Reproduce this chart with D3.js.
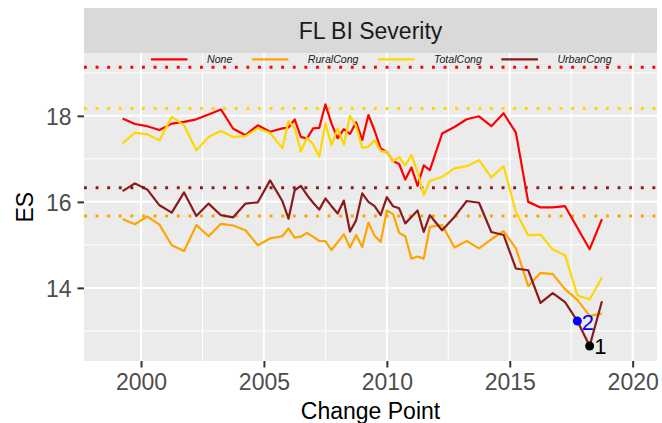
<!DOCTYPE html>
<html>
<head>
<meta charset="utf-8">
<script src="https://cdn.jsdelivr.net/npm/d3@7"></script>
<style>
  html, body { margin: 0; padding: 0; background: #ffffff; }
  svg { display: block; font-family: "Liberation Sans", Arial, Helvetica, sans-serif; }
</style>
</head>
<body>
<svg id="chart" width="662" height="423"></svg>
<script>
// ---------------- data ----------------
const years = [
  1999.25, 1999.75, 2000.25, 2000.75, 2001.25, 2001.75, 2002.25, 2002.75, 2003.25, 2003.75, 2004.25, 2004.75, 2005.25, 2005.75,
  2006.0, 2006.25, 2006.5, 2006.75, 2007.0, 2007.25, 2007.5, 2007.75, 2008.0, 2008.25, 2008.5, 2008.75,
  2009.0, 2009.25, 2009.5, 2009.75, 2010.0, 2010.25, 2010.5, 2010.75, 2011.0, 2011.25, 2011.5, 2011.75,
  2012.25, 2012.75, 2013.25, 2013.75, 2014.25, 2014.75, 2015.25, 2015.75, 2016.25, 2016.75, 2017.25, 2017.75, 2018.25, 2018.75
];
const noneValues = [
  17.94, 17.81, 17.76, 17.67, 17.82, 17.86, 17.92, 18.03, 18.15, 17.70, 17.55, 17.78, 17.63, 17.71,
  17.73, 17.92, 17.51, 17.47, 17.71, 17.72, 18.27, 17.82, 17.48, 17.69, 17.58, 17.85,
  17.44, 18.02, 17.66, 17.24, 17.16, 16.95, 16.88, 16.52, 16.80, 16.37, 16.85, 16.74,
  17.59, 17.74, 17.92, 17.99, 17.76, 18.06, 17.61, 16.00, 15.87, 15.87, 15.90, 15.40, 14.90, 15.60
];
const ruralValues = [
  15.60, 15.48, 15.66, 15.47, 14.99, 14.86, 15.46, 15.20, 15.49, 15.45, 15.34, 14.99, 15.15, 15.20,
  15.38, 15.17, 15.19, 15.28, 15.19, 15.09, 15.09, 14.88, 15.06, 15.25, 14.94, 15.23,
  14.95, 15.52, 15.21, 15.07, 15.80, 15.72, 15.28, 15.20, 14.68, 14.73, 14.68, 15.42,
  15.46, 14.94, 15.09, 14.92, 15.13, 15.32, 14.92, 14.04, 14.35, 14.32, 13.97, 13.72, 13.35, 13.40
];
const totalValues = [
  17.36, 17.61, 17.57, 17.43, 17.98, 17.78, 17.20, 17.51, 17.65, 17.51, 17.53, 17.71, 17.60, 17.25,
  17.88, 17.71, 17.17, 17.49, 17.34, 17.05, 17.82, 17.32, 17.71, 17.33, 18.00, 17.76,
  17.26, 17.28, 17.43, 17.18, 17.17, 16.94, 17.04, 16.85, 17.09, 16.70, 16.16, 16.49,
  16.58, 16.78, 16.83, 16.97, 16.57, 16.83, 15.77, 15.22, 15.24, 14.89, 14.76, 13.83, 13.73, 14.24
];
const urbanValues = [
  16.25, 16.43, 16.29, 15.92, 15.75, 16.22, 15.67, 15.96, 15.69, 15.64, 15.96, 15.99, 16.50, 16.02,
  15.61, 16.27, 16.37, 16.16, 15.98, 15.82, 16.08, 15.90, 15.73, 16.03, 15.31, 15.57,
  16.20, 16.00, 15.90, 15.69, 16.11, 15.90, 15.85, 15.50, 15.65, 15.80, 15.30, 15.69,
  15.34, 15.65, 16.02, 15.98, 15.30, 15.23, 14.45, 14.41, 13.65, 13.88, 13.67, 13.23, 12.65, 13.69
];
const seriesNames = ["None", "RuralCong", "TotalCong", "UrbanCong"];
const referenceLevels = [19.13, 15.67, 18.17, 16.33];   // one per series, same order
const changePointLabels = ["1", "2"];
const changePointYears = [2018.25, 2017.75];
const changePointValues = [12.65, 13.23];
const xTicks = [2000, 2005, 2010, 2015, 2020];
const xMinor = [2002.5, 2007.5, 2012.5, 2017.5];
const yTicks = [14, 16, 18];
const yMinor = [13, 15, 17, 19];
const chartTitle = "FL BI Severity";
const xTitle = "Change Point";
const yTitle = "ES";

// ---------------- styles ----------------
const seriesColors = ["#FF0000", "#FFA500", "#FFD700", "#8B1A1A"];
const changePointColors = ["#000000", "#0000FF"];

// ---------------- layout ----------------
const svg = d3.select("#chart");
const panel = { left: 84, right: 657, top: 53.5, bottom: 361 };
const strip = { top: 8, bottom: 53.5 };

const x = d3.scaleLinear().domain([1997.68, 2020.99]).range([panel.left, panel.right]);
const y = d3.scaleLinear().domain([12.30, 19.45]).range([panel.bottom, panel.top]);

// strip
svg.append("rect")
  .attr("x", panel.left).attr("y", strip.top)
  .attr("width", panel.right - panel.left).attr("height", strip.bottom - strip.top)
  .attr("fill", "#D9D9D9");
svg.append("text")
  .attr("x", (panel.left + panel.right) / 2).attr("y", 38.5)
  .attr("text-anchor", "middle").attr("font-size", 23).attr("fill", "#1A1A1A")
  .text(chartTitle);

// panel background
svg.append("rect")
  .attr("x", panel.left).attr("y", panel.top)
  .attr("width", panel.right - panel.left).attr("height", panel.bottom - panel.top)
  .attr("fill", "#EBEBEB");

const grid = svg.append("g");
grid.selectAll(".ymin").data(yMinor).enter().append("line")
  .attr("x1", panel.left).attr("x2", panel.right)
  .attr("y1", d => y(d)).attr("y2", d => y(d))
  .attr("stroke", "#FFFFFF").attr("stroke-width", 1);
grid.selectAll(".xmin").data(xMinor).enter().append("line")
  .attr("y1", panel.top).attr("y2", panel.bottom)
  .attr("x1", d => x(d)).attr("x2", d => x(d))
  .attr("stroke", "#FFFFFF").attr("stroke-width", 1);
grid.selectAll(".ymaj").data(yTicks).enter().append("line")
  .attr("x1", panel.left).attr("x2", panel.right)
  .attr("y1", d => y(d)).attr("y2", d => y(d))
  .attr("stroke", "#FFFFFF").attr("stroke-width", 2);
grid.selectAll(".xmaj").data(xTicks).enter().append("line")
  .attr("y1", panel.top).attr("y2", panel.bottom)
  .attr("x1", d => x(d)).attr("x2", d => x(d))
  .attr("stroke", "#FFFFFF").attr("stroke-width", 2);

// reference dotted lines
svg.append("g").selectAll("line").data(referenceLevels).enter().append("line")
  .attr("x1", panel.left).attr("x2", panel.right)
  .attr("y1", d => y(d)).attr("y2", d => y(d))
  .attr("stroke", (d, i) => seriesColors[i])
  .attr("stroke-width", 2.9)
  .attr("stroke-dasharray", "2.9 8.7");

// series lines
const seriesValues = [noneValues, ruralValues, totalValues, urbanValues];
const line = d3.line().x(d => x(d[0])).y(d => y(d[1]));
const clip = svg.append("defs").append("clipPath").attr("id", "pclip")
  .append("rect").attr("x", panel.left).attr("y", panel.top)
  .attr("width", panel.right - panel.left).attr("height", panel.bottom - panel.top);
const linesG = svg.append("g").attr("clip-path", "url(#pclip)");
seriesValues.forEach((vals, i) => {
  linesG.append("path")
    .datum(years.map((yr, j) => [yr, vals[j]]))
    .attr("d", line)
    .attr("fill", "none")
    .attr("stroke", seriesColors[i])
    .attr("stroke-width", 2.2)
    .attr("stroke-linejoin", "round");
});

// change points
const cpG = svg.append("g");
changePointLabels.forEach((lab, i) => {
  const cx = x(changePointYears[i]), cy = y(changePointValues[i]);
  cpG.append("circle").attr("cx", cx).attr("cy", cy).attr("r", 4.5)
    .attr("fill", changePointColors[i]);
  cpG.append("text").attr("x", cx + 4.5).attr("y", cy + 8.5)
    .attr("font-size", 22).attr("fill", changePointColors[i]).text(lab);
});

// legend (inside top of panel)
const legendG = svg.append("g");
let lx = 151;
const legendLineY = 59.3, legendTextY = 63.2;
seriesNames.forEach((name, i) => {
  legendG.append("line")
    .attr("x1", lx).attr("x2", lx + 36.5)
    .attr("y1", legendLineY).attr("y2", legendLineY)
    .attr("stroke", seriesColors[i]).attr("stroke-width", 2.2);
  const t = legendG.append("text")
    .attr("x", lx + 36.5 + 19.5).attr("y", legendTextY)
    .attr("font-size", 10.6).attr("font-style", "italic").attr("fill", "#1A1A1A")
    .text(name);
  const w = t.node().getComputedTextLength();
  lx = lx + 36.5 + 19.5 + w + 19.5;
});

// axes
const xAxis = d3.axisBottom(x).tickValues(xTicks).tickFormat(d3.format("d")).tickSize(6.5).tickPadding(6);
const gx = svg.append("g").attr("transform", `translate(0,${panel.bottom})`).call(xAxis);
gx.select(".domain").remove();
gx.selectAll(".tick line").attr("stroke", "#333333").attr("stroke-width", 2);
gx.selectAll(".tick text").attr("font-size", 23).attr("fill", "#4D4D4D")
  .attr("font-family", "Liberation Sans, Arial, sans-serif").attr("dy", "0.71em");

const yAxis = d3.axisLeft(y).tickValues(yTicks).tickFormat(d3.format("d")).tickSize(6.5).tickPadding(6);
const gy = svg.append("g").attr("transform", `translate(${panel.left},0)`).call(yAxis);
gy.select(".domain").remove();
gy.selectAll(".tick line").attr("stroke", "#333333").attr("stroke-width", 2);
gy.selectAll(".tick text").attr("font-size", 23).attr("fill", "#4D4D4D")
  .attr("font-family", "Liberation Sans, Arial, sans-serif").attr("dy", "0.36em");

// axis titles
svg.append("text")
  .attr("x", (panel.left + panel.right) / 2).attr("y", 419)
  .attr("text-anchor", "middle").attr("font-size", 23).attr("fill", "#000000")
  .text(xTitle);
svg.append("text")
  .attr("transform", `translate(32.5,${(panel.top + panel.bottom) / 2}) rotate(-90)`)
  .attr("text-anchor", "middle").attr("font-size", 23).attr("fill", "#000000")
  .text(yTitle);
</script>
</body>
</html>
